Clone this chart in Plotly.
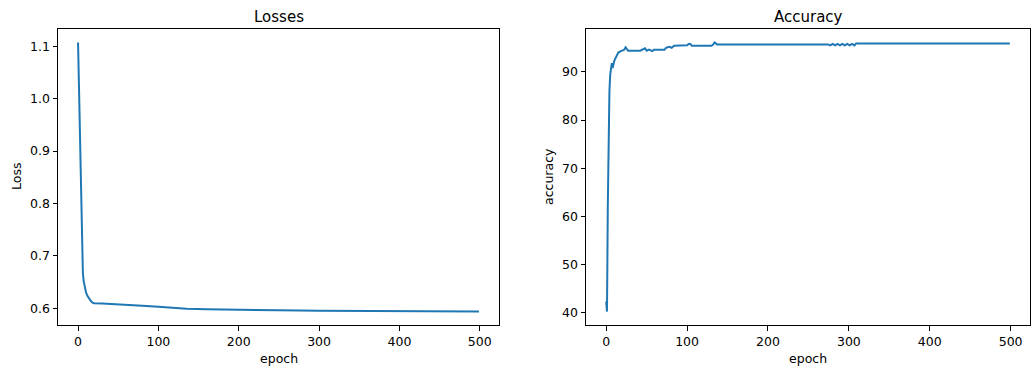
import plotly.graph_objects as go

# ---- data ----
loss_epochs = [0, 1, 2, 3, 4, 5, 6, 7, 8, 9, 10, 12, 14, 16, 18, 20, 30, 40, 60, 80, 100,
               120, 135, 160, 200, 250, 300, 350, 400, 450, 499]
loss_values = [1.107, 1.03, 0.96, 0.878, 0.775, 0.70, 0.668, 0.652, 0.642, 0.635, 0.630,
               0.623, 0.618, 0.614, 0.611, 0.610, 0.6095, 0.6088, 0.6076, 0.605, 0.603,
               0.601, 0.5994, 0.5985, 0.5972, 0.5963, 0.5957, 0.5952, 0.5948, 0.5944, 0.594]

acc_epochs = [0, 1, 2, 3, 4, 5, 6, 7, 8, 9, 10, 12, 13, 15, 18, 22, 24, 25, 27, 42, 45,
              48, 50, 53, 57, 59, 72, 74, 78, 81, 84, 100, 102, 104, 106, 130, 132, 134,
              137, 274, 277, 280, 283, 286, 289, 292, 295, 298, 301, 304, 307, 309, 499]
acc_values = [42.4, 40.3, 62, 80, 86, 89.5, 91.0, 91.8, 90.8, 92.1, 92.3, 93.0, 93.3, 94.0,
              94.3, 94.55, 95.1, 94.9, 94.4, 94.4, 94.6, 94.9, 94.4, 94.6, 94.3, 94.6, 94.6,
              95.0, 95.2, 95.0, 95.4, 95.5, 95.8, 95.8, 95.4, 95.4, 95.6, 96.1, 95.7, 95.7,
              95.5, 95.8, 95.5, 95.8, 95.5, 95.8, 95.5, 95.8, 95.5, 95.8, 95.5, 95.9, 95.9]

x_ticks = [0, 100, 200, 300, 400, 500]
loss_ticks = [0.6, 0.7, 0.8, 0.9, 1.0, 1.1]
acc_ticks = [40, 50, 60, 70, 80, 90]

titles = ["Losses", "Accuracy"]
x_label = "epoch"
y_labels = ["Loss", "accuracy"]

# ---- layout geometry (pixels) ----
W, H = 1035, 376
FONT = "DejaVu Sans"
BLUE = "#1f77b4"


def px_x(p):
    return p / W


def px_y(p):
    return 1 - p / H


fig = go.Figure()
fig.add_trace(go.Scatter(x=loss_epochs, y=loss_values, mode="lines",
                         line=dict(color=BLUE, width=2), xaxis="x", yaxis="y",
                         showlegend=False))
fig.add_trace(go.Scatter(x=acc_epochs, y=acc_values, mode="lines",
                         line=dict(color=BLUE, width=2), xaxis="x2", yaxis="y2",
                         showlegend=False))


def axis_common():
    return dict(showline=True, linecolor="black", linewidth=1, mirror=True,
                ticks="outside", ticklen=4.5, tickwidth=1, tickcolor="black",
                showgrid=False, zeroline=False,
                tickfont=dict(family=FONT, size=12.5, color="#000000"))


def xr(lo, hi):
    span = hi - lo
    return [lo - 0.05 * span, hi + 0.05 * span]


loss_range = xr(min(loss_values), max(loss_values))
acc_range = xr(min(acc_values), max(acc_values))
ep_range = xr(0, max(loss_epochs))

L1 = (58, 499)
L2 = (586, 1030)
TOP, BOT = 29, 325

fig.update_layout(
    width=W, height=H,
    margin=dict(l=0, r=0, t=0, b=0),
    paper_bgcolor="white", plot_bgcolor="white",
    xaxis=dict(domain=[px_x(L1[0]), px_x(L1[1])], range=ep_range, tickvals=x_ticks,
               anchor="y", **axis_common()),
    yaxis=dict(domain=[px_y(BOT), px_y(TOP)], range=loss_range, tickvals=loss_ticks,
               tickformat=".1f", anchor="x", **axis_common()),
    xaxis2=dict(domain=[px_x(L2[0]), px_x(L2[1])], range=ep_range, tickvals=x_ticks,
                anchor="y2", **axis_common()),
    yaxis2=dict(domain=[px_y(BOT), px_y(TOP)], range=acc_range, tickvals=acc_ticks,
                anchor="x2", **axis_common()),
)

annots = []
for (l, r), t in zip([L1, L2], titles):
    annots.append(dict(text=t, x=px_x((l + r) / 2), y=px_y(16.5), xref="paper", yref="paper",
                       xanchor="center", yanchor="middle", showarrow=False,
                       font=dict(family=FONT, size=15, color="#000000")))
    annots.append(dict(text=x_label, x=px_x((l + r) / 2), y=px_y(358), xref="paper",
                       yref="paper", xanchor="center", yanchor="middle", showarrow=False,
                       font=dict(family=FONT, size=12.5, color="#000000")))
for xc, t in zip([16, 548], y_labels):
    annots.append(dict(text=t, x=px_x(xc), y=px_y((TOP + BOT) / 2), xref="paper",
                       yref="paper", xanchor="center", yanchor="middle", textangle=-90,
                       showarrow=False, font=dict(family=FONT, size=12.5, color="#000000")))
fig.update_layout(annotations=annots)

fig.write_html("out.html")
